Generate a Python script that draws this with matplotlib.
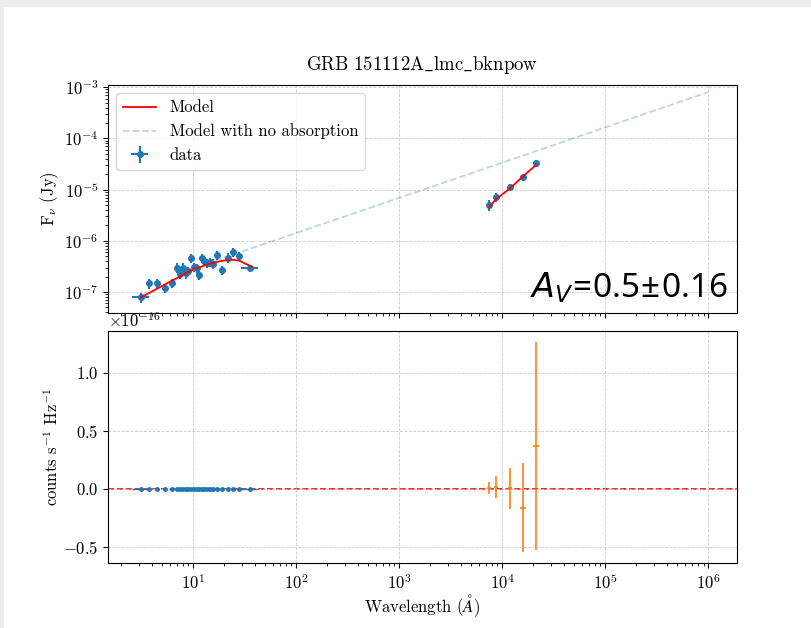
"""
Broken power-law fit of GRB 151112A with LMC-type dust: SED in the top panel,
residual counts in the bottom panel.
"""
import numpy as np
import matplotlib
matplotlib.use("Agg")
import matplotlib.pyplot as plt
from matplotlib.patches import Rectangle
from matplotlib.ticker import ScalarFormatter

plt.rcParams.update({
    "font.family": ["cmr10", "DejaVu Serif"],
    "mathtext.fontset": "cm",
    "mathtext.rm": "Noto Sans",
    "mathtext.it": "DejaVu Sans:italic",
    "axes.formatter.use_mathtext": True,
    "axes.unicode_minus": True,
    "font.size": 12,
})

# X-ray points (Angstrom, Jy)
xray_wl = [3.14, 3.78, 4.45, 5.36, 6.22, 6.95, 7.48, 8.00, 8.55, 9.0, 9.50, 10.2,
           10.9, 11.5, 12.3, 12.9, 13.6, 14.6, 15.7, 17.1, 19.3, 22.1, 24.7,
           28.1, 36.2]
xray_wl_err = [0.6, 0.2, 0.2, 0.25, 0.3, 0.3, 0.3, 0.35, 0.35, 0.4, 0.4, 0.45,
               0.45, 0.5, 0.5, 0.55, 0.55, 0.6, 0.65, 0.7, 0.8, 0.9, 1.0,
               1.1, 6.8]
xray_flux = [7.9e-8, 1.47e-7, 1.51e-7, 1.20e-7, 1.51e-7, 3.0e-7, 2.3e-7, 3.0e-7,
             2.33e-7, 2.6e-7, 4.64e-7, 3.09e-7, 2.9e-7, 2.2e-7, 4.64e-7, 4.05e-7,
             3.7e-7, 3.87e-7, 3.6e-7, 5.24e-7, 2.67e-7, 4.72e-7, 6.07e-7,
             5.0e-7, 2.96e-7]
xray_flux_err = [1.8e-8, 3.0e-8, 3.0e-8, 2.5e-8, 3.0e-8, 6.5e-8, 5.0e-8, 6.5e-8,
                 5.0e-8, 5.5e-8, 1.0e-7, 6.5e-8, 6.0e-8, 4.8e-8, 1.0e-7, 8.5e-8,
                 8.0e-8, 8.0e-8, 7.5e-8, 1.1e-7, 5.5e-8, 1.0e-7, 1.3e-7,
                 1.05e-7, 4.5e-8]
xray_resid = [0.0, 0.0, 0.0, 0.0, 0.0, 0.0, 0.0, 0.0, 0.0, 0.0,
              0.0, 0.0, 0.0, 0.0, 0.0, 0.0, 0.0, 0.0, 0.0, 0.0,
              0.0, 0.0, 0.0, 0.0, 0.0]

# optical / NIR points
opt_wl = [7500, 8710, 11970, 16000, 21250]
opt_wl_err = [300, 350, 600, 1100, 1400]
opt_flux = [4.96e-6, 7.19e-6, 1.13e-5, 1.77e-5, 3.24e-5]
opt_flux_err = [1.2e-6, 1.5e-6, 1.8e-6, 2.8e-6, 5.0e-6]
opt_resid = [0.006e-16, 0.015e-16, 0.003e-16, -0.164e-16, 0.368e-16]
opt_resid_err = [0.05e-16, 0.095e-16, 0.18e-16, 0.385e-16, 0.90e-16]

# absorbed model
model_xray_wl = [3.14, 5.57, 10.07, 14.6, 19.1, 24.5, 28.4, 32.0, 37.3]
model_xray_flux = [7.9e-8, 1.47e-7, 2.75e-7, 3.6e-7, 4.08e-7, 4.27e-7, 4.08e-7,
                   3.6e-7, 3.12e-7]
model_opt_wl = [7500, 8710, 11970, 16000, 21250]
model_opt_flux = [4.53e-6, 6.5e-6, 1.06e-5, 1.83e-5, 3.0e-5]

# intrinsic (unabsorbed) power law
noabs_wl = [16.3, 1.0e4, 1.0e6]
noabs_flux = [4.07e-7, 3.35e-5, 8.0e-4]

av, av_err = 0.5, 0.16

fig = plt.figure(figsize=(8.12, 6.28), dpi=100, facecolor="#ececec")
fig.patches.append(Rectangle((4 / 812, 0), 1, 1 - 7 / 628,
                             transform=fig.transFigure, facecolor="white",
                             edgecolor="none", zorder=-10))

ax1 = fig.add_axes([0.133, 0.5016, 0.7746, 0.363])
ax2 = fig.add_axes([0.133, 0.1035, 0.7746, 0.3694], sharex=ax1)

ax1.plot(model_xray_wl, model_xray_flux, color="red", lw=1.3, label="Model",
         zorder=3)
ax1.plot(model_opt_wl, model_opt_flux, color="red", lw=1.3, zorder=3)
ax1.plot(noabs_wl, noabs_flux, color="C0", alpha=0.3, ls="--", lw=1.3,
         label="Model with no absorption")
ax1.errorbar(xray_wl, xray_flux, xerr=xray_wl_err, yerr=xray_flux_err,
             fmt="o", ms=4, color="C0", label="data", zorder=2)
ax1.errorbar(opt_wl, opt_flux, xerr=opt_wl_err, yerr=opt_flux_err,
             fmt="o", ms=4, color="C0", zorder=2)

ax1.set_xscale("log")
ax1.set_yscale("log")
ax1.set_xlim(1.5, 1.9e6)
ax1.set_ylim(3.9e-8, 1.1e-3)
ax1.set_ylabel(r"F$_\nu$ (Jy)")
ax1.yaxis.set_label_coords(-0.075, 0.5)
ax1.set_title(r"$\mathrm{GRB\ 151112A\_lmc\_bknpow}$", fontsize=13.5, pad=11)
ax1.tick_params(labelbottom=False)
ax1.grid(True, ls="--", lw=0.6, color="0.8")
ax1.legend(loc="upper left", fontsize=12)
ax1.text(0.985, 0.035, r"$A_V\!=\!%.1f\!\pm\!%.2f$" % (av, av_err),
         transform=ax1.transAxes, ha="right", va="bottom", fontsize=24,
         math_fontfamily="custom")

ax2.errorbar(xray_wl, xray_resid, xerr=xray_wl_err, fmt="o", ms=2.5,
             color="C0", lw=1.0)
ax2.errorbar(opt_wl, opt_resid, xerr=opt_wl_err, yerr=opt_resid_err,
             fmt="none", color="C1", lw=1.2)
ax2.axhline(0, color="red", ls="--", lw=1.2, zorder=0)
ax2.set_ylim(-0.64e-16, 1.36e-16)
ax2.set_yticks([-0.5e-16, 0.0, 0.5e-16, 1.0e-16])
fmt = ScalarFormatter(useMathText=True)
fmt.set_powerlimits((0, 0))
ax2.yaxis.set_major_formatter(fmt)
ax2.set_ylabel(r"counts s$^{-1}$ Hz$^{-1}$")
ax2.yaxis.set_label_coords(-0.075, 0.5)
ax2.set_xlabel(r"Wavelength ($\AA$)")
ax2.xaxis.set_label_coords(0.5, -0.125)
ax2.grid(True, ls="--", lw=0.6, color="0.8")

fig.savefig("out.png", dpi=100, facecolor=fig.get_facecolor())
